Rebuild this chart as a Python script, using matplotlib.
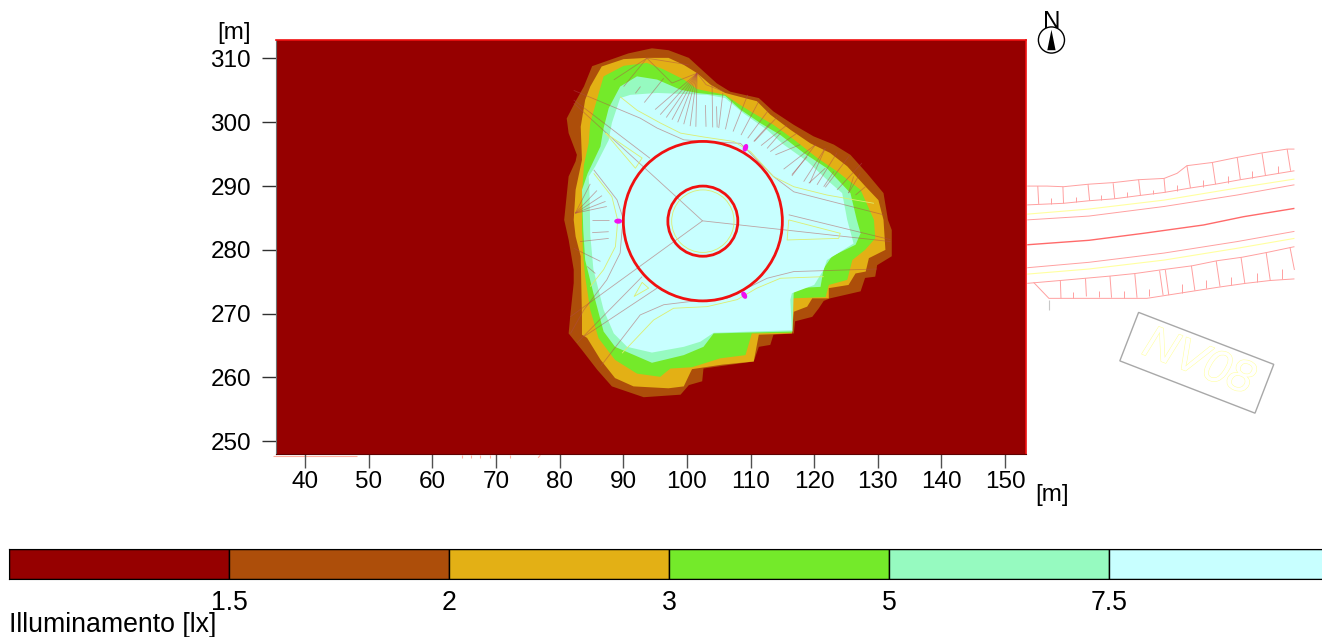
import matplotlib
matplotlib.use('Agg')
import matplotlib.pyplot as plt
import matplotlib.patheffects as pe
from matplotlib.patches import Circle, Ellipse, Polygon

plt.rcParams['font.family'] = ['Liberation Sans', 'DejaVu Sans']

W, H = 1322, 637

# colour classes, lowest first
levels = ['1.5', '2', '3', '5', '7.5']
colours = ['#960000', '#ad4e0a', '#e3b015', '#74ea2a', '#96fac0', '#c8ffff']

x_ticks = [40, 50, 60, 70, 80, 90, 100, 110, 120, 130, 140, 150]
y_ticks = [250, 260, 270, 280, 290, 300, 310]

# isolines, [m]
contour_15 = [(94.5, 311.6), (97.1, 311.3), (100.3, 310.1), (102.6, 308.0), (104.7, 306.1), (106.8, 304.8),
              (111.3, 303.8), (113.6, 301.7), (116.8, 299.6), (119.9, 297.8), (123.1, 296.5), (125.7, 294.9),
              (128.3, 292.0), (130.9, 288.9), (131.6, 284.7), (132.2, 283.1), (132.2, 279.0), (129.9, 277.6),
              (129.6, 275.8), (128.0, 275.6), (127.3, 273.5), (122.5, 272.4), (121.5, 272.0), (120.7, 270.8),
              (119.7, 269.5), (117.0, 268.8), (116.8, 266.9), (113.6, 266.7), (113.1, 265.1), (111.3, 264.8),
              (110.5, 262.5), (102.6, 261.4), (102.4, 259.4), (100.3, 258.8), (99.0, 257.3), (93.2, 256.9),
              (88.2, 258.6), (85.9, 261.2), (83.5, 264.3), (81.4, 266.9), (81.7, 270.1), (82.2, 274.8),
              (82.2, 276.9), (81.4, 281.6), (80.7, 284.7), (81.4, 291.5), (82.5, 293.9), (82.7, 294.9),
              (81.4, 298.3), (81.1, 300.6), (82.5, 303.3), (83.8, 305.6), (85.1, 308.8), (87.95, 309.8),
              (90.8, 310.8)]
contour_2 = [(93.7, 310.1), (97.1, 310.1), (99.5, 309.0), (101.6, 307.7), (103.7, 305.9), (106.0, 304.6),
             (111.0, 303.3), (113.1, 301.2), (116.3, 298.8), (119.4, 296.7), (122.5, 295.2), (125.2, 293.1),
             (128.1, 289.9), (130.1, 287.8), (130.9, 284.7), (131.2, 280.0), (128.6, 278.7), (128.1, 276.6),
             (126.5, 276.3), (125.4, 274.5), (122.3, 274.0), (122.3, 272.4), (119.7, 272.4), (118.9, 271.1),
             (116.8, 270.3), (116.5, 266.9), (111.3, 266.7), (110.5, 262.5), (105.5, 262.0), (100.8, 261.3),
             (100.5, 260.7), (99.5, 258.6), (97.1, 258.3), (91.6, 258.6), (88.7, 259.9), (86.4, 262.8),
             (84.3, 266.2), (83.5, 266.7), (83.5, 269.5), (83.3, 279.0), (82.5, 282.1), (82.2, 284.7),
             (82.5, 289.4), (83.5, 294.1), (83.3, 299.3), (84.0, 303.5), (84.8, 305.6), (86.6, 308.75),
             (90.05, 309.9)]
contour_3 = [(90.05, 308.85), (93.7, 309.3), (96.3, 308.3), (99.5, 306.7), (101.6, 305.2), (106.0, 304.3),
             (107.9, 303.0), (110.5, 301.4), (113.6, 299.6), (116.8, 297.3), (120.5, 294.4), (123.6, 292.3),
             (127.3, 289.4), (129.4, 284.7), (129.6, 281.8), (128.0, 280.0), (126.0, 278.4), (125.2, 275.3),
             (122.3, 274.5), (121.8, 272.6), (116.6, 272.4), (116.5, 267.0), (110.2, 266.9), (109.2, 263.5),
             (105.25, 263.0), (100.8, 261.6), (97.4, 261.4), (95.8, 260.1), (92.15, 260.6), (88.7, 262.75),
             (86.1, 266.15), (84.8, 270.6), (84.0, 275.8), (83.7, 279.0), (83.5, 283.1), (83.5, 288.4),
             (83.8, 293.3), (84.55, 296.7), (84.8, 299.9), (86.9, 307.2)]
contour_5 = [(89.5, 305.6), (92.15, 307.2), (95.3, 306.7), (99.0, 305.1), (101.6, 304.6), (106.0, 304.15),
             (108.4, 302.0), (111.5, 299.9), (114.7, 298.0), (118.35, 295.2), (122.0, 292.8), (125.7, 288.9),
             (126.7, 284.7), (127.3, 282.6), (126.5, 280.8), (122.8, 279.0), (121.5, 277.1), (121.0, 274.2),
             (116.8, 274.0), (116.6, 267.2), (104.2, 266.9), (102.6, 264.8), (99.5, 263.5), (94.5, 262.3),
             (88.7, 264.8), (86.9, 267.2), (85.3, 273.2), (84.0, 278.4), (83.7, 283.1), (83.5, 289.4),
             (84.4, 292.0), (86.4, 296.2), (86.9, 299.1), (87.7, 302.2)]
contour_75 = [(91.1, 304.3), (95.3, 304.6), (103.15, 304.3), (106.0, 303.8), (108.9, 301.4), (112.6, 298.8),
              (115.2, 296.5), (118.9, 293.9), (122.55, 290.5), (124.4, 288.9), (125.2, 284.7), (126.2, 281.0),
              (122.0, 278.4), (121.5, 276.9), (120.0, 274.5), (116.5, 273.2), (116.25, 272.2), (116.5, 267.4),
              (104.2, 267.0), (102.1, 265.6), (99.5, 264.8), (94.5, 263.9), (90.6, 264.8), (88.5, 266.9),
              (86.9, 270.6), (85.3, 276.9), (84.8, 282.35), (84.7, 288.4), (84.55, 291.5), (85.6, 293.1),
              (87.7, 297.2), (88.2, 299.9), (89.5, 303.8)]
contours = [contour_15, contour_2, contour_3, contour_5, contour_75]

# roundabout
centre = (102.5, 284.5)
radii = [12.5, 5.5]
lamps = [(109.2, 296.0), (89.2, 284.5), (109.0, 272.9)]
lamp_angles = [70, 0, 120]

# roundabout drawing, thin lines
inner_brown = [
    [(100.3, 309.0), (93.7, 310.05), (88.5, 306.65)],
    [(93.7, 310.05), (97.65, 306.15), (101.6, 307.7), (103.0, 305.9), (105.8, 304.8)],
    [(93.7, 310.05), (90.05, 305.6)],
    [(96.35, 306.9), (93.3, 303.1)],
    [(92.7, 305.6), (91.9, 304.55)],
    [(82.2, 305.0), (92.65, 300.65), (95.3, 299.1), (99.5, 297.25), (103.15, 297.0), (108.4, 296.7),
     (109.45, 295.7), (113.6, 291.5), (116.8, 289.1), (130.9, 285.5)],
    [(82.2, 303.5), (94.2, 294.35)],
    [(82.2, 303.0), (102.45, 284.55)],
    [(102.45, 284.55), (132.0, 281.3)],
    [(102.45, 284.55), (81.65, 269.5)],
    [(116.0, 285.5), (132.0, 281.6)],
    [(86.4, 261.7), (92.65, 269.8), (96.35, 271.4), (100.5, 271.9), (106.3, 272.4), (109.45, 274.0),
     (112.6, 275.55), (116.8, 276.6), (129.9, 277.0)],
    [(89.8, 283.15), (89.5, 279.5), (87.4, 275.3), (83.8, 270.6), (81.7, 266.9)],
    [(85.35, 292.55), (89.0, 287.85), (90.05, 284.7), (89.8, 283.15)],
    [(82.7, 265.4), (92.95, 275.8)],
    [(83.8, 266.4), (95.3, 274.0)],
    [(85.1, 284.7), (87.7, 284.7)],
    [(85.1, 282.7), (87.7, 282.85)],
    [(83.2, 281.3), (87.7, 281.8)],
    [(82.2, 280.25), (86.4, 278.2)],
    [(84.3, 277.4), (85.6, 276.3)],
]
inner_yellow = [
    [(89.5, 304.0), (92.15, 301.9), (95.8, 299.9), (99.0, 298.3), (102.6, 297.7), (107.35, 297.0),
     (110.0, 295.4), (113.6, 291.5), (116.8, 289.9), (122.0, 288.6), (129.4, 287.3)],
    [(89.8, 263.8), (94.75, 269.0), (97.9, 270.85), (103.15, 271.1), (107.9, 272.2), (111.0, 274.0),
     (114.7, 275.55), (121.5, 275.8)],
    [(85.35, 292.0), (88.2, 288.35), (89.1, 284.7), (89.0, 283.15), (88.75, 280.5), (86.9, 276.9),
     (84.8, 274.25)],
    [(116.0, 284.7), (124.1, 282.6), (123.85, 281.8), (115.75, 281.55), (116.0, 284.7)],
    [(92.95, 274.9), (93.98, 274.0), (91.7, 272.7), (92.95, 274.9)],
    [(87.2, 298.3), (92.95, 294.4), (91.9, 292.8), (87.2, 298.3)],
]
inner_ring_r = 4.9

# slope hatching on the north side: (top, bottom) pairs
hatch_top = [(102.9, 302.7), (103.95, 305.9), (104.65, 302.5), (105.65, 304.6), (107.1, 303.5),
             (109.55, 304.3), (111.3, 303.3), (112.85, 301.95), (114.15, 300.8), (115.75, 299.6),
             (117.3, 298.3), (120.2, 296.5), (120.2, 296.5), (121.75, 295.95), (121.75, 295.95),
             (123.6, 295.25), (125.45, 294.65), (127.5, 293.6), (127.25, 292.0), (128.05, 289.9),
             (113.1, 299.9), (114.7, 298.3), (117.8, 296.5), (118.9, 294.6), (121.75, 292.8),
             (123.1, 292.3), (126.2, 291.5),
             (101.6, 307.7), (101.6, 307.7), (101.6, 307.7), (101.6, 307.7), (101.6, 307.7),
             (101.6, 307.7), (101.6, 307.7), (101.6, 307.7),
             (82.45, 285.75), (82.45, 285.75), (82.45, 285.75), (82.45, 285.75), (82.45, 285.75)]
hatch_bottom = [(103.0, 299.3), (104.05, 299.2), (104.75, 299.2), (105.0, 299.1), (106.05, 298.9),
                (107.25, 298.55), (108.5, 298.0), (109.55, 297.5), (110.6, 297.0), (111.65, 296.35),
                (113.1, 295.4), (115.2, 292.65), (116.5, 291.6), (118.35, 290.7), (119.3, 290.45),
                (120.45, 290.2), (121.75, 289.8), (123.6, 289.4), (125.4, 288.9), (126.5, 288.6),
                (110.5, 297.0), (112.6, 295.9), (113.9, 294.9), (116.5, 291.8), (119.15, 290.45),
                (121.5, 289.9), (125.4, 288.9),
                (95.0, 302.0), (95.8, 301.2), (96.75, 300.75), (97.65, 300.4), (98.55, 300.0),
                (99.5, 299.7), (100.5, 299.4), (101.4, 299.3),
                (87.4, 286.8), (87.2, 287.6), (86.65, 288.5), (85.85, 289.3), (84.8, 290.35)]

# road leaving to the east
road_red = [
    [(153.5, 290.0), (156.6, 290.0), (159.2, 289.9), (163.2, 290.3), (167.1, 290.55), (171.0, 291.0),
     (175.0, 291.2), (177.05, 292.0), (178.6, 293.2), (182.6, 293.7), (186.5, 294.5), (190.4, 295.2),
     (194.35, 295.8), (195.5, 295.8)],
    [(153.5, 287.05), (159.2, 287.3), (163.2, 287.7), (167.1, 288.0), (171.0, 288.5), (175.0, 289.0),
     (179.15, 289.7), (183.1, 290.3), (187.0, 291.0), (190.95, 291.65), (195.5, 292.4)],
    [(153.5, 284.7), (163.2, 285.3), (175.0, 286.8), (186.5, 288.6), (195.5, 290.2)],
    [(153.5, 277.2), (163.2, 278.05), (175.0, 279.5), (186.5, 281.3), (195.5, 282.9)],
    [(153.5, 274.75), (158.7, 275.2), (162.65, 275.55), (166.6, 275.9), (170.5, 276.3), (174.4, 276.85),
     (179.4, 277.5), (183.35, 278.3), (187.3, 278.85), (191.2, 279.6), (195.5, 280.5)],
    [(154.5, 274.9), (156.9, 272.4), (166.05, 272.4), (172.3, 272.4), (175.5, 272.9), (180.0, 273.6),
     (183.9, 274.2), (187.8, 274.75), (191.7, 275.2), (195.5, 275.45)],
]
road_centre = [(153.5, 280.8), (163.2, 281.5), (171.8, 282.6), (181.2, 283.9), (187.5, 285.2), (195.5, 286.5)]
road_yellow = [
    [(153.5, 285.6), (163.2, 286.4), (175.0, 287.8), (186.5, 289.7), (195.5, 291.1)],
    [(153.5, 276.2), (163.2, 277.0), (175.0, 278.4), (186.5, 280.25), (195.5, 281.8)],
]
road_ticks = [
    [(155.15, 290.0), (155.3, 287.2)], [(159.1, 289.9), (159.2, 287.3)], [(163.05, 290.3), (163.3, 287.7)],
    [(167.0, 290.45), (167.25, 288.0)], [(171.0, 291.0), (171.3, 288.5)], [(175.0, 291.2), (175.2, 289.0)],
    [(178.6, 293.2), (179.15, 289.7)], [(182.6, 293.7), (183.1, 290.3)], [(186.5, 294.5), (187.0, 291.0)],
    [(190.4, 295.15), (190.95, 291.65)], [(194.35, 295.8), (194.9, 292.4)],
    [(157.2, 288.1), (157.2, 287.2)], [(161.2, 288.35), (161.2, 287.5)], [(165.15, 288.6), (165.15, 287.8)],
    [(169.2, 289.05), (169.2, 288.25)], [(173.2, 289.4), (173.2, 288.7)], [(177.1, 290.1), (177.1, 289.3)],
    [(181.05, 291.0), (181.05, 289.9)], [(185.0, 291.65), (185.0, 290.55)], [(188.9, 292.4), (188.9, 291.3)],
    [(192.85, 293.2), (192.85, 292.0)],
    [(158.7, 275.2), (158.8, 272.4)], [(162.65, 275.55), (162.8, 272.7)], [(166.5, 275.9), (166.75, 272.5)],
    [(170.4, 276.3), (170.75, 272.5)], [(174.3, 276.75), (174.85, 272.9)], [(175.2, 276.85), (175.75, 272.9)],
    [(179.3, 277.5), (179.85, 273.6)], [(183.2, 278.25), (183.8, 274.25)], [(187.1, 278.85), (187.7, 274.75)],
    [(191.05, 279.6), (191.7, 275.2)], [(194.8, 280.4), (195.5, 276.85)],
    [(160.75, 273.35), (160.75, 272.5)], [(164.8, 273.55), (164.8, 272.55)], [(168.7, 273.55), (168.7, 272.5)],
    [(172.65, 273.9), (172.65, 272.7)], [(177.75, 274.6), (177.75, 273.3)], [(181.65, 275.2), (181.65, 274.0)],
    [(185.6, 275.8), (185.6, 274.5)], [(189.6, 276.3), (189.6, 275.0)], [(193.5, 277.0), (193.5, 275.4)],
]
# bits of the drawing that stick out under the grid
bottom_bits = [
    [(35.0, 247.7), (48.2, 247.7)], [(64.7, 247.8), (64.7, 247.4)], [(66.0, 247.8), (66.0, 247.4)],
    [(67.5, 247.8), (67.5, 247.4)], [(69.0, 247.8), (69.0, 247.4)], [(72.2, 247.8), (72.2, 247.4)],
    [(76.95, 247.8), (76.6, 247.4)],
]
sign_box = [(171.0, 270.2), (192.25, 262.05), (189.3, 254.4), (168.05, 262.6)]
sign_text = 'NV08'
sign_pos = (180.4, 262.3)
north_pos = (157.3, 312.9)
north_arrow = [(157.3, 314.5), (156.65, 311.3), (157.95, 311.3)]
stub = [(156.9, 272.15), (156.9, 270.5)]


def draw_lines(ax, lines, color, lw, alpha=1.0, z=5):
    for line in lines:
        ax.plot([p[0] for p in line], [p[1] for p in line], color=color, lw=lw, alpha=alpha,
                zorder=z, clip_on=False, solid_capstyle='butt')


fig = plt.figure(figsize=(W / 100, H / 100), dpi=100)
fs = 17.5
fs_scale = 19.2

ax = fig.add_axes([276 / W, 1 - 454 / H, 750 / W, 414 / H])
ax.set_xlim(35.4, 153.3)
ax.set_ylim(248.0, 312.9)
ax.set_facecolor(colours[0])

for pts, col in zip(contours, colours[1:]):
    ax.fill([p[0] for p in pts], [p[1] for p in pts], color=col, lw=0, zorder=2)

draw_lines(ax, inner_brown, '#b04a4a', 0.6, 0.5)
draw_lines(ax, inner_yellow, '#dcee70', 0.6)
draw_lines(ax, [[a, b] for a, b in zip(hatch_top, hatch_bottom)], '#b04a4a', 0.6, 0.5)
ax.add_patch(Circle(centre, inner_ring_r, fill=False, ec='#dcee70', lw=0.6, zorder=5))

for r in radii:
    ax.add_patch(Circle(centre, r, fill=False, ec='#f01010', lw=2.0, zorder=6))
for (lx, ly), ang in zip(lamps, lamp_angles):
    ax.add_patch(Ellipse((lx, ly), 1.25, 0.8, angle=ang, fc='#f010f0', ec='none', zorder=7))

draw_lines(ax, road_red, '#ffa0a0', 0.7)
draw_lines(ax, road_ticks, '#ffa0a0', 0.7)
draw_lines(ax, [road_centre], '#ff6a6a', 1.0)
draw_lines(ax, road_yellow, '#ffffa0', 0.8)
draw_lines(ax, [stub], '#c8c8c8', 0.8)
draw_lines(ax, bottom_bits, '#ffb0a0', 0.8, z=1)

ax.add_patch(Polygon(sign_box, closed=True, fill=False, ec='#a8a8a8', lw=1.0, clip_on=False))
ax.text(sign_pos[0], sign_pos[1], sign_text, fontsize=33, style='italic', color='white', rotation=-21,
        rotation_mode='anchor', ha='center', va='center', clip_on=False,
        family=['Liberation Sans Narrow', 'Liberation Sans'],
        path_effects=[pe.withStroke(linewidth=0.8, foreground='#ffffa0')])

ax.add_patch(Circle(north_pos, 2.05, fill=False, ec='black', lw=1.0, clip_on=False, zorder=8))
ax.add_patch(Polygon(north_arrow, closed=True, fc='black', ec='none', clip_on=False, zorder=8))
ax.text(north_pos[0], 314.0, 'N', fontsize=fs, ha='center', va='bottom', clip_on=False, zorder=9)

ax.set_xticks(x_ticks)
ax.set_yticks(y_ticks)
ax.tick_params(axis='x', length=10, width=1.0, color='#505050', labelsize=fs, pad=2)
ax.tick_params(axis='y', length=10, width=1.0, color='#303030', labelsize=fs, pad=8)
for side in ['top', 'right']:
    ax.spines[side].set_color('#f01010')
    ax.spines[side].set_linewidth(1.2)
ax.spines['left'].set_color('#707070')
ax.spines['bottom'].set_color('#600000')

fig.text(234 / W, 1 - 33 / H, '[m]', fontsize=fs, ha='center', va='center')
fig.text(1052 / W, 1 - 495 / H, '[m]', fontsize=fs, ha='center', va='center')
fig.text(9 / W, 1 - 625.5 / H, 'Illuminamento [lx]', fontsize=fs_scale, ha='left', va='center')

# colour scale runs past the right edge of the picture
cax = fig.add_axes([9 / W, 1 - 579 / H, 1320 / W, 30 / H])
for i, col in enumerate(colours):
    cax.barh(0, 1, left=i, height=1, color=col, edgecolor='black', linewidth=1.0, align='edge')
cax.set_xlim(0, len(colours))
cax.set_ylim(0, 1)
cax.set_yticks([])
cax.set_xticks(range(1, len(colours)))
cax.set_xticklabels(levels, fontsize=fs_scale)
cax.tick_params(axis='x', length=0, pad=8)

fig.savefig('out.png', dpi=100)
